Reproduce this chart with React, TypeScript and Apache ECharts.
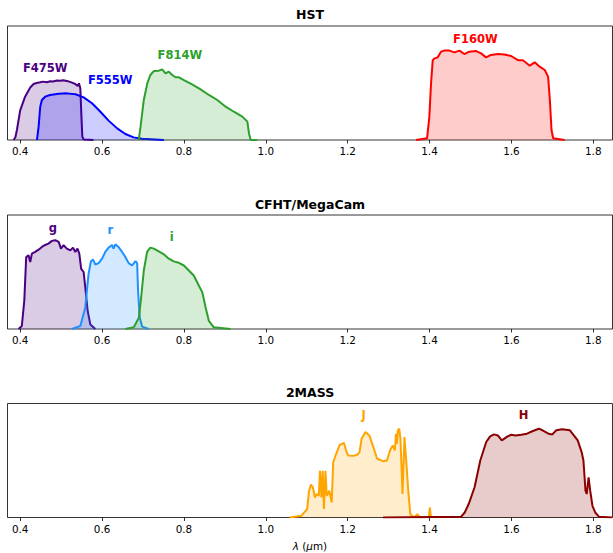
import React, { useEffect, useRef } from "react";
import * as echarts from "echarts";

// ---------- data (wavelength in micron, normalised throughput) ----------
const tickValues = [0.4, 0.6, 0.8, 1.0, 1.2, 1.4, 1.6, 1.8];
const panelTitles = ["HST", "CFHT/MegaCam", "2MASS"];

const f475wX = [0.3836, 0.388, 0.392, 0.4, 0.412, 0.4245, 0.4327, 0.44, 0.449, 0.456, 0.465, 0.4734, 0.48, 0.49, 0.498, 0.505, 0.514, 0.52, 0.5265, 0.5346, 0.5403, 0.5436, 0.5469, 0.5493, 0.5518, 0.555, 0.579];
const f475wY = [0, 0.02, 0.088, 0.26, 0.38, 0.46, 0.491, 0.5, 0.506, 0.512, 0.507, 0.515, 0.514, 0.522, 0.52, 0.524, 0.518, 0.512, 0.503, 0.491, 0.474, 0.497, 0.453, 0.234, 0.029, 0.005, 0];

const f555wX = [0.441, 0.445, 0.449, 0.453, 0.461, 0.473, 0.494, 0.514, 0.535, 0.555, 0.5755, 0.596, 0.616, 0.637, 0.657, 0.677, 0.698, 0.751];
const f555wY = [0, 0.117, 0.292, 0.351, 0.38, 0.395, 0.406, 0.409, 0.401, 0.374, 0.322, 0.248, 0.17, 0.102, 0.053, 0.023, 0.01, 0];

const f814wX = [0.6896, 0.694, 0.702, 0.7105, 0.718, 0.7264, 0.7386, 0.747, 0.755, 0.763, 0.7714, 0.7795, 0.7877, 0.8, 0.82, 0.8406, 0.861, 0.8815, 0.902, 0.922, 0.9427, 0.955, 0.959, 0.963, 0.979];
const f814wY = [0, 0.117, 0.351, 0.497, 0.57, 0.605, 0.608, 0.62, 0.585, 0.6, 0.57, 0.55, 0.55, 0.526, 0.488, 0.444, 0.395, 0.351, 0.292, 0.248, 0.205, 0.161, 0.058, 0, 0];

const f160wX = [1.367, 1.394, 1.3996, 1.4037, 1.4078, 1.412, 1.42, 1.428, 1.436, 1.4486, 1.461, 1.473, 1.485, 1.497, 1.514, 1.526, 1.538, 1.55, 1.567, 1.583, 1.5995, 1.616, 1.628, 1.645, 1.657, 1.669, 1.6815, 1.6897, 1.694, 1.698, 1.702, 1.73];
const f160wY = [0, 0.015, 0.205, 0.497, 0.7, 0.716, 0.725, 0.775, 0.784, 0.784, 0.769, 0.784, 0.754, 0.775, 0.78, 0.76, 0.725, 0.746, 0.754, 0.75, 0.737, 0.7, 0.7, 0.652, 0.681, 0.643, 0.614, 0.556, 0.351, 0.088, 0.015, 0];

const gX = [0.396, 0.404, 0.41, 0.4147, 0.4204, 0.4245, 0.4286, 0.4367, 0.445, 0.453, 0.461, 0.469, 0.4776, 0.4857, 0.494, 0.4996, 0.506, 0.514, 0.5224, 0.529, 0.5346, 0.54, 0.5444, 0.549, 0.555, 0.559, 0.5648, 0.5714, 0.5836];
const gY = [0, 0.027, 0.248, 0.631, 0.646, 0.587, 0.661, 0.676, 0.696, 0.72, 0.737, 0.749, 0.773, 0.779, 0.764, 0.705, 0.735, 0.705, 0.69, 0.714, 0.676, 0.705, 0.661, 0.528, 0.5, 0.366, 0.16, 0.04, 0];

const rX = [0.5265, 0.547, 0.559, 0.567, 0.573, 0.578, 0.5836, 0.5917, 0.6, 0.608, 0.616, 0.6245, 0.628, 0.6326, 0.64, 0.649, 0.657, 0.665, 0.6734, 0.6815, 0.6857, 0.688, 0.692, 0.698, 0.714];
const rY = [0, 0.027, 0.189, 0.484, 0.596, 0.608, 0.566, 0.578, 0.617, 0.676, 0.714, 0.737, 0.705, 0.743, 0.72, 0.676, 0.631, 0.578, 0.557, 0.596, 0.578, 0.336, 0.1, 0.021, 0];

const iX = [0.657, 0.6775, 0.69, 0.6955, 0.702, 0.71, 0.718, 0.7264, 0.7386, 0.751, 0.763, 0.775, 0.7875, 0.8, 0.812, 0.824, 0.8366, 0.845, 0.853, 0.861, 0.873, 0.914];
const iY = [0, 0.015, 0.1, 0.277, 0.513, 0.676, 0.714, 0.705, 0.681, 0.655, 0.617, 0.593, 0.581, 0.557, 0.513, 0.469, 0.38, 0.321, 0.189, 0.071, 0.015, 0];

const jX = [1.058, 1.0867, 1.101, 1.1057, 1.1105, 1.115, 1.12, 1.1248, 1.1295, 1.1324, 1.136, 1.139, 1.142, 1.1457, 1.149, 1.155, 1.161, 1.1647, 1.172, 1.18, 1.1866, 1.1913, 1.196, 1.2008, 1.215, 1.2246, 1.229, 1.234, 1.2436, 1.253, 1.2627, 1.272, 1.2864, 1.296, 1.3035, 1.31, 1.3154, 1.318, 1.3207, 1.3226, 1.326, 1.329, 1.334, 1.3388, 1.3436, 1.348, 1.353, 1.3625, 1.37, 1.3768, 1.3987, 1.4006, 1.4034, 1.42];
const jY = [0, 0.015, 0.074, 0.235, 0.288, 0.265, 0.176, 0.206, 0.19, 0.41, 0.176, 0.41, 0.074, 0.41, 0.19, 0.235, 0.132, 0.485, 0.559, 0.632, 0.647, 0.653, 0.588, 0.544, 0.541, 0.553, 0.574, 0.691, 0.75, 0.72, 0.618, 0.515, 0.494, 0.5, 0.588, 0.632, 0.588, 0.735, 0.647, 0.765, 0.779, 0.691, 0.206, 0.706, 0.47, 0.235, 0.029, 0, 0.029, 0, 0.006, 0.088, 0.006, 0];

const hX = [1.2864, 1.4767, 1.486, 1.4957, 1.51, 1.524, 1.5385, 1.548, 1.5575, 1.567, 1.5765, 1.5908, 1.6, 1.61, 1.624, 1.638, 1.6526, 1.667, 1.676, 1.6906, 1.7, 1.7097, 1.724, 1.743, 1.7525, 1.762, 1.7716, 1.776, 1.781, 1.784, 1.7886, 1.7925, 1.798, 1.8048, 1.8144, 1.8457];
const hY = [0, 0.006, 0.044, 0.118, 0.265, 0.5, 0.662, 0.712, 0.729, 0.72, 0.676, 0.712, 0.726, 0.72, 0.726, 0.735, 0.759, 0.779, 0.765, 0.735, 0.729, 0.765, 0.774, 0.765, 0.72, 0.676, 0.574, 0.5, 0.235, 0.206, 0.353, 0.235, 0.103, 0.044, 0.006, 0];

// filter name, panel, colour, label position [lambda, y]
const filterNames = ["F475W", "F555W", "F814W", "F160W", "g", "r", "i", "J", "H"];
const filterPanels = [0, 0, 0, 0, 1, 1, 1, 2, 2];
const filterX = [f475wX, f555wX, f814wX, f160wX, gX, rX, iX, jX, hX];
const filterY = [f475wY, f555wY, f814wY, f160wY, gY, rY, iY, jY, hY];
const filterColors = ["#4B0082", "#0000FF", "#2CA02C", "#FF0000", "#4B0082", "#1E90FF", "#2CA02C", "#FFA500", "#8B0000"];
const labelX = [0.461, 0.62, 0.79, 1.512, 0.48, 0.62, 0.77, 1.239, 1.63];
const labelY = [0.63, 0.53, 0.75, 0.89, 0.885, 0.87, 0.81, 0.897, 0.897];

const FONT = "DejaVu Sans";

function hexToRgba(hex: string, a: number) {
  const n = parseInt(hex.slice(1), 16);
  return `rgba(${(n >> 16) & 255},${(n >> 8) & 255},${n & 255},${a})`;
}

export default function App() {
  const ref = useRef<HTMLDivElement>(null);
  useEffect(() => {
    if (!ref.current) return;
    const chart = echarts.init(ref.current, null, { renderer: "svg" });
    const tops = [26, 215, 403.5];
    const grids = tops.map((t) => ({
      left: 7.5,
      top: t,
      width: 605,
      height: 114,
      show: true,
      borderColor: "#000",
      borderWidth: 0.8,
      backgroundColor: "transparent",
    }));
    const xAxes = tops.map((_, i) => ({
      type: "value",
      gridIndex: i,
      min: 0.369,
      max: 1.847,
      axisLine: { show: false },
      splitLine: { show: false },
      axisTick: {
        show: true,
        inside: false,
        length: 3.5,
        customValues: tickValues,
        lineStyle: { color: "#000", width: 0.8 },
      },
      axisLabel: {
        customValues: tickValues,
        formatter: (v: number) => v.toFixed(1),
        color: "#000",
        fontFamily: FONT,
        fontSize: 10.4,
        margin: 6,
      },
    }));
    const yAxes = tops.map((_, i) => ({
      type: "value",
      gridIndex: i,
      min: 0,
      max: 1,
      show: false,
      splitLine: { show: false },
    }));
    const series: any[] = [];
    filterNames.forEach((name, k) => {
      const p = filterPanels[k];
      const col = filterColors[k];
      series.push({
        type: "line",
        name,
        xAxisIndex: p,
        yAxisIndex: p,
        data: filterX[k].map((x, j) => [x, filterY[k][j]]),
        showSymbol: false,
        symbol: "none",
        lineStyle: { color: col, width: 2, opacity: 1 },
        itemStyle: { color: col },
        areaStyle: { color: hexToRgba(col, 0.2), opacity: 1, origin: "start" },
        z: 2 + k * 0.01,
      });
      series.push({
        type: "scatter",
        name: name + "_label",
        xAxisIndex: p,
        yAxisIndex: p,
        data: [[labelX[k], labelY[k]]],
        symbolSize: 1,
        itemStyle: { color: "rgba(0,0,0,0)", opacity: 1 },
        label: {
          show: true,
          position: "inside",
          formatter: name,
          color: col,
          opacity: 1,
          fontFamily: FONT,
          fontWeight: "bold",
          fontSize: 11.5,
        },
        z: 5,
      });
    });
    const graphics: any[] = [];
    const titleY = [14, 204, 392.5];
    panelTitles.forEach((t, i) => {
      graphics.push({
        type: "text",
        x: 310,
        y: titleY[i],
        style: {
          text: t,
          font: `bold 12.5px "${FONT}"`,
          fill: "#000",
          textAlign: "center",
          textVerticalAlign: "middle",
        },
      });
    });
    graphics.push({
      type: "text",
      x: 310,
      y: 546,
      style: {
        text: "{i|λ} ({i|μ}m)",
        font: `10.4px "${FONT}"`,
        fill: "#000",
        textAlign: "center",
        textVerticalAlign: "middle",
        rich: {
          i: { fontStyle: "italic", fontFamily: FONT, fontSize: 10.4, fill: "#000" },
        },
      },
    });
    chart.setOption({
      animation: false,
      backgroundColor: "#fff",
      grid: grids,
      xAxis: xAxes,
      yAxis: yAxes,
      series,
      graphic: graphics,
    });
    return () => chart.dispose();
  }, []);
  return (
    <div
      ref={ref}
      style={{ position: "fixed", left: 0, top: 0, width: 613, height: 553 }}
    />
  );
}
